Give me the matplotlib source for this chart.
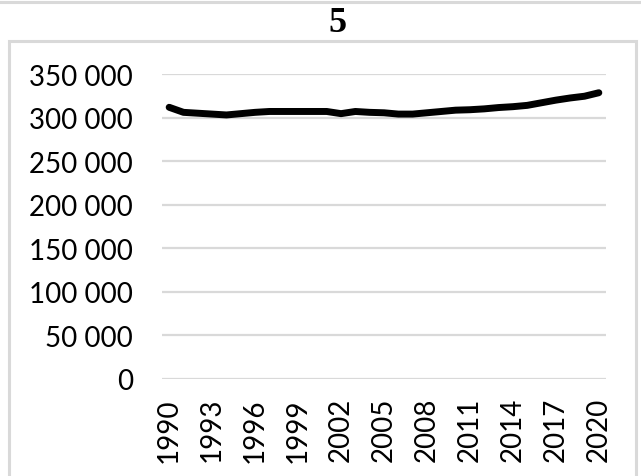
import matplotlib
matplotlib.use("Agg")
import matplotlib.pyplot as plt
from matplotlib.lines import Line2D
from matplotlib.patches import Rectangle

years = list(range(1990, 2021))
values = [311800, 306000, 305000, 304000, 303000, 304500, 306000, 307000,
          307000, 307000, 307000, 307000, 304500, 307000, 306000, 305500,
          304000, 304000, 305500, 307000, 308500, 309000, 310000, 311500,
          312500, 314000, 317000, 320000, 322500, 324500, 328500]
yticks = [0, 50000, 100000, 150000, 200000, 250000, 300000, 350000]
xtick_years = list(range(1990, 2021, 3))
title = "5"

W, H = 641, 477
fig = plt.figure(figsize=(W / 100, H / 100), dpi=100)

def fx(px):
    return px / W

def fy(py):
    return 1 - py / H

grey = "#d9d9d9"
# line from a box above
fig.add_artist(Line2D([0, 1], [fy(3), fy(3)], color=grey, lw=2.2, transform=fig.transFigure))
# chart frame
fig.add_artist(Rectangle((fx(9), fy(490)), fx(636) - fx(9), fy(42) - fy(490),
                         fill=False, edgecolor=grey, lw=2.2, transform=fig.transFigure))

fig.text(fx(337), fy(24), title, ha="center", va="center",
         fontsize=26, fontweight="bold", family="Liberation Serif")

# plot area: gridlines from x 162 to 606; 0 at y 380, 350000 at y 75
x0, x1 = 162, 606
y0, y1 = 380, 75
ax = fig.add_axes([fx(x0), fy(y0), fx(x1) - fx(x0), fy(y1) - fy(y0)])
ax.set_xlim(1989.5, 2020.5)
ax.set_ylim(0, 350000)
ax.plot(years, values, color="black", lw=5, solid_capstyle="round", solid_joinstyle="round")

ax.set_yticks(yticks)
ax.set_yticklabels([f"{v:,}".replace(",", " ") for v in yticks])
ax.set_xticks(xtick_years)
ax.set_xticklabels([str(y) for y in xtick_years], rotation=90)
ax.yaxis.grid(True, color=grey, lw=1.6)
ax.set_axisbelow(True)
for s in ax.spines.values():
    s.set_visible(False)
ax.tick_params(axis="both", length=0, labelsize=20, colors="black")
ax.tick_params(axis="y", pad=21)
ax.tick_params(axis="x", pad=13)
for lab in ax.get_xticklabels() + ax.get_yticklabels():
    lab.set_family("Lato")

fig.savefig("out.png", dpi=100)
